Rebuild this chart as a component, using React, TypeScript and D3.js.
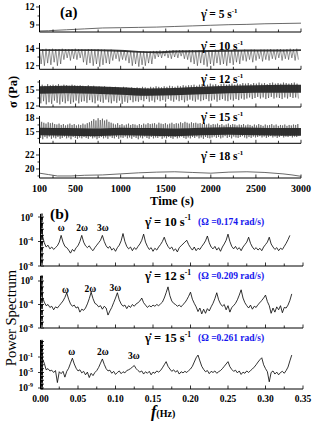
import React from 'react'
import * as d3 from 'd3'

// ---------- (a) stress vs time ----------
const rates = [5, 10, 12, 15, 18]
const omegas = [0.174, 0.209, 0.261] // rad/s, for 10, 12, 15 s^-1

const yTicks5 = [9, 12]
const yTicks10 = [12, 14]
const yTicks12 = [12, 15]
const yTicks15 = [15, 18]
const yTicks18 = [20, 22]
const timeLabels = [100, 500, 1000, 1500, 2000, 2500, 3000]

// 5 s^-1: slow creep
const time5 = [100, 200, 400, 600, 800, 1000, 1200, 1400, 1600, 1800, 2000, 2200, 2400, 2600, 2800, 3000]
const stress5 = [8.0, 8.05, 8.2, 8.35, 8.5, 8.55, 8.6, 8.65, 8.75, 8.85, 8.95, 9.05, 9.1, 9.2, 9.25, 9.3]

// 10 s^-1: per-cycle maxima / minima
const hi10 = [
  13.95, 13.9, 13.95, 13.9, 13.95, 13.9, 13.9, 13.95, 13.9, 13.9,
  13.9, 13.95, 13.9, 13.9, 13.85, 13.9, 13.9, 13.85, 13.9, 13.85,
  13.85, 13.8, 13.85, 13.8, 13.8, 13.75, 13.75, 13.7, 13.7, 13.65,
  13.65, 13.6, 13.65, 13.6, 13.65, 13.7, 13.7, 13.75, 13.7, 13.75,
  13.75, 13.8, 13.75, 13.8, 13.8, 13.75, 13.8, 13.8, 13.75, 13.8,
  13.8, 13.75, 13.8, 13.8, 13.85, 13.8, 13.8, 13.85, 13.8, 13.8,
  13.85, 13.8, 13.8, 13.85, 13.8, 13.85, 13.85, 13.8, 13.85, 13.85,
  13.85, 13.9, 13.85, 13.9, 13.9, 13.85, 13.9, 13.95, 13.9, 13.95
]
const lo10 = [
  12.2, 12.0, 12.3, 12.1, 12.4, 12.0, 12.2,
  12.7, 12.9, 12.6, 12.8, 12.7, 12.9,
  12.4, 12.1, 12.3, 12.0, 12.2, 11.9, 12.1, 12.3, 12.2,
  12.6, 12.8, 12.5, 12.7, 12.6,
  12.3, 12.0, 12.2, 11.9, 12.1, 12.0, 12.3, 12.2,
  12.8, 13.0, 12.9, 13.1, 12.9, 12.8, 13.0, 12.9, 13.1, 12.8, 12.7,
  12.4, 12.2, 12.0, 12.3, 12.1, 11.9, 12.2, 12.0, 12.3, 12.1, 12.2, 12.0, 12.3, 12.1, 12.4, 12.2,
  12.6, 12.5, 12.7, 12.4, 12.6, 12.8, 12.5, 12.7, 12.6,
  12.8, 12.7, 12.9, 12.6, 12.8, 12.7, 12.9, 12.6, 12.7
]
const coreT10 = [100, 500, 900, 1200, 1400, 1600, 2000, 2400, 2800, 3000]
const coreHi10 = [13.9, 13.9, 13.85, 13.7, 13.65, 13.75, 13.8, 13.85, 13.85, 13.9]
const coreLo10 = [13.68, 13.68, 13.63, 13.48, 13.43, 13.53, 13.58, 13.63, 13.63, 13.68]

// 12 s^-1
const hi12 = [
  15.9, 16.0, 15.8, 16.1, 15.9, 16.0, 15.9, 16.1, 15.8, 16.0, 15.9, 15.8, 16.0, 15.9, 15.8, 15.9,
  15.8, 15.7, 15.9, 15.7, 15.8, 15.6, 15.7, 15.6, 15.7, 15.5, 15.6, 15.5, 15.6, 15.5, 15.4, 15.6, 15.5, 15.4, 15.5, 15.4,
  15.5, 15.4, 15.6, 15.5, 15.4, 15.6, 15.5, 15.7, 15.6, 15.5, 15.7, 15.6, 15.8, 15.7, 15.6, 15.8, 15.7, 15.9, 15.8, 15.9,
  15.9, 16.0, 15.8, 16.0, 16.1, 15.9, 16.0, 16.2, 16.0, 16.1, 15.9, 16.1, 16.2, 16.0, 16.1, 16.2, 16.0, 16.2, 16.1, 16.3,
  16.2, 16.3, 16.1, 16.3, 16.2, 16.4, 16.2, 16.3, 16.1, 16.3, 16.4, 16.2, 16.3, 16.2, 16.4, 16.3, 16.2, 16.3, 16.4, 16.2
]
const lo12 = [
  12.5, 12.9, 12.3, 12.7, 12.4, 13.0, 12.6, 12.3, 12.8, 12.5, 12.9, 12.4, 12.7, 13.0, 12.5, 12.8,
  12.9, 12.6, 13.1, 12.7, 12.5, 13.0, 12.8, 12.6, 13.2, 12.7, 12.5, 12.9, 12.6, 13.0, 12.4, 12.8, 12.6, 13.1, 12.7, 12.9,
  12.8, 13.1, 12.9, 13.3, 12.8, 13.0, 12.7, 13.2, 12.9, 13.1, 12.8, 13.3, 13.0, 12.8, 13.2, 12.9, 13.1, 12.7, 13.0, 13.2,
  13.0, 12.8, 13.2, 12.9, 13.1, 13.3, 12.9, 13.0, 13.2, 12.8, 13.1, 13.3, 13.0, 12.9, 13.2, 13.0, 13.3, 13.1, 13.4, 13.2,
  13.4, 13.6, 13.3, 13.5, 13.7, 13.4, 13.6, 13.3, 13.5, 13.7, 13.4, 13.6, 13.5, 13.3, 13.6, 13.4, 13.7, 13.5, 13.6, 13.4
]
const coreT12 = [100, 400, 700, 1000, 1300, 1600, 1900, 2200, 2500, 2800, 3000]
const coreHi12 = [15.7, 15.8, 15.7, 15.5, 15.3, 15.4, 15.6, 15.8, 15.9, 16.0, 16.0]
const coreLo12 = [14.3, 14.4, 14.3, 14.1, 13.9, 14.0, 14.2, 14.4, 14.5, 14.5, 14.5]

// 15 s^-1
const hi15 = [
  17.8, 17.2, 17.0, 16.8, 17.1, 16.9, 17.0, 16.7,
  16.6, 16.8, 16.5, 16.7, 16.4, 16.6, 16.8, 16.5, 16.7, 16.4, 16.6, 16.5, 16.8, 16.6, 16.9, 17.1,
  17.4, 17.8, 17.5, 18.0, 17.6, 17.9, 17.5, 17.7, 17.2, 17.0,
  16.8, 16.6, 16.9, 16.5, 16.7, 16.4, 16.6, 16.8, 16.5, 16.7, 16.6, 16.4, 16.7, 16.5, 16.8, 16.6, 16.9, 16.7,
  16.8, 16.9, 16.6, 17.0, 16.8, 16.7, 16.9, 16.6, 16.8, 17.0, 16.7, 16.9, 16.8, 17.1, 16.9, 17.2, 17.0, 16.8, 17.1, 16.9, 17.0, 16.8, 16.9,
  16.7, 16.9, 16.6, 16.8, 16.5, 16.7, 16.6, 16.8, 16.5, 16.7, 16.4, 16.6, 16.8, 16.5, 16.7, 16.6, 16.4, 16.6,
  16.5, 16.7, 16.4, 16.6, 16.5, 16.3, 16.6, 16.4, 16.7, 16.5, 16.3, 16.6, 16.4, 16.5, 16.7, 16.4, 16.6, 16.3, 16.5, 16.4, 16.6, 16.3, 16.5, 16.4, 16.6, 16.5, 16.7
]
const lo15 = [
  13.6, 13.3, 13.8, 13.5, 13.9, 13.4, 13.7, 13.5, 13.8, 13.4, 13.6, 13.9, 13.5, 13.7, 13.3, 13.8, 13.6, 13.4, 13.7, 13.5,
  13.8, 13.6, 13.4, 13.9, 13.5, 13.7, 13.3, 13.6, 13.8, 13.5, 13.7, 13.4, 13.9, 13.6, 13.5, 13.8, 13.4, 13.7, 13.6, 13.9,
  13.5, 13.7, 13.4, 13.8, 13.6, 13.3, 13.7, 13.5, 13.9, 13.6, 13.4, 13.8, 13.5, 13.7, 13.6, 13.9, 13.4, 13.7, 13.5, 13.8,
  13.6, 13.4, 13.8, 13.5, 13.7, 13.9, 13.6, 13.4, 13.7, 13.5, 13.8, 13.6, 13.9, 13.5, 13.7, 13.4, 13.8, 13.6, 13.5, 13.7,
  13.9, 13.6, 13.8, 13.5, 13.7, 14.0, 13.6, 13.8, 13.5, 13.9, 13.7, 13.6, 13.8, 14.0, 13.7, 13.5, 13.8, 13.6, 13.9, 13.7,
  13.8, 14.0, 13.7, 13.9, 13.6, 13.8, 14.0, 13.7, 13.9, 13.6, 13.8, 14.1, 13.7, 13.9, 13.8, 14.0, 13.7, 13.9, 13.8, 14.0
]
const coreT15 = [100, 400, 700, 1000, 1300, 1600, 1900, 2200, 2500, 2800, 3000]
const coreHi15 = [15.9, 15.8, 15.7, 15.9, 15.8, 15.7, 15.9, 16.0, 15.9, 15.8, 15.8]
const coreLo15 = [14.2, 14.1, 14.0, 14.2, 14.1, 14.0, 14.2, 14.3, 14.2, 14.1, 14.1]

// 18 s^-1: nearly steady
const time18 = [100, 200, 300, 450, 600, 800, 1000, 1200, 1400, 1600, 1800, 2000, 2200, 2400, 2600, 2800, 2900, 3000]
const stress18 = [19.4, 19.2, 19.0, 19.0, 19.1, 19.15, 19.3, 19.45, 19.55, 19.6, 19.5, 19.4, 19.55, 19.6, 19.5, 19.3, 19.15, 18.95]

// ---------- (b) power spectra, log10(P), df = 0.0025 Hz ----------
const df = 0.0025
const freqLabels = [0, 0.05, 0.1, 0.15, 0.2, 0.25, 0.3, 0.35]
const logP10 = [
  0.5, -3.0, -4.2, -4.9, -4.6, -5.2, -4.9, -5.3, -5.0, -4.7,
  -4.1, -3.0, -4.1, -4.8, -5.0, -5.4, -5.9, -5.3, -5.6, -5.0,
  -4.7, -4.0, -3.0, -4.1, -4.7, -5.0, -4.7, -5.2, -5.5, -5.0,
  -4.6, -4.2, -3.8, -3.0, -4.0, -4.7, -5.1, -4.8, -5.4, -5.1,
  -5.6, -5.0, -4.6, -3.9, -2.7, -4.0, -4.8, -5.2, -4.9, -5.5,
  -5.0, -5.3, -4.8, -4.4, -3.8, -2.8, -4.1, -4.8, -5.3, -5.0,
  -5.6, -5.1, -5.4, -4.9, -4.5, -4.0, -3.3, -4.2, -4.8, -5.2,
  -4.9, -5.5, -5.2, -5.7, -5.0, -4.7, -4.4, -4.1, -3.8, -4.5,
  -5.0, -5.4, -4.9, -5.5, -5.1, -5.3, -4.8, -4.4, -3.9, -3.1,
  -4.2, -4.9, -5.2, -4.8, -5.4, -5.0, -5.6, -4.9, -4.4, -3.8,
  -2.8, -4.0, -4.8, -5.2, -4.8, -5.3, -5.0, -5.5, -4.9, -4.5,
  -4.1, -3.3, -4.3, -4.9, -5.3, -5.0, -5.4, -5.1, -5.5, -4.9,
  -4.5, -4.1, -3.3, -4.4, -4.9, -5.3, -5.0, -5.5, -5.1, -5.3,
  -4.8, -4.3, -3.7, -3.0
]
const logP12 = [
  0.8, -2.7, -3.6, -4.2, -4.0, -4.5, -4.3, -4.9, -4.4, -4.6,
  -4.2, -3.8, -3.4, -2.8, -2.0, -3.1, -3.9, -4.3, -4.1, -4.6,
  -4.4, -5.3, -4.8, -5.0, -4.6, -3.9, -3.0, -1.9, -3.0, -3.8,
  -4.0, -4.4, -4.2, -4.8, -4.3, -4.6, -5.8, -5.1, -4.5, -3.7,
  -2.9, -2.0, -3.2, -3.9, -4.3, -4.1, -4.7, -4.2, -4.5, -4.0,
  -4.3, -3.9, -3.7, -3.4, -2.9, -3.7, -4.1, -4.5, -4.2, -4.4,
  -4.1, -4.3, -4.0, -4.2, -3.9, -3.6, -2.9, -2.0, -1.0, -2.5,
  -3.4, -3.8, -4.0, -4.3, -4.1, -4.4, -4.0, -3.7, -3.2, -2.6,
  -1.9, -3.1, -3.8, -4.4, -5.2, -4.6, -5.6, -4.8, -5.5, -4.7,
  -5.1, -4.4, -3.8, -3.0, -2.0, -3.2, -3.9, -4.3, -4.0, -4.9,
  -4.2, -5.3, -4.5, -4.2, -3.8, -3.2, -2.4, -1.5, -2.9, -3.7,
  -4.2, -4.6, -4.1, -4.8, -4.3, -4.5, -4.0, -3.7, -3.3, -2.9,
  -2.4, -3.5, -4.2, -5.5, -4.6, -5.3, -4.4, -4.9, -4.2, -5.4,
  -4.5, -4.6, -4.1, -3.3, -2.2
]
const logP15 = [
  3.4, -1.4, -2.6, -4.3, -4.0, -4.6, -4.4, -5.0, -4.5, -7.6,
  -4.8, -5.3, -4.7, -6.2, -4.7, -3.9, -2.6, -1.3, -2.8, -3.9,
  -4.6, -4.3, -5.1, -4.7, -5.6, -4.9, -6.3, -5.2, -5.8, -5.0,
  -4.5, -3.7, -2.6, -1.5, -2.9, -4.0, -4.6, -4.4, -5.2, -4.7,
  -5.5, -5.0, -4.6, -5.3, -4.8, -5.1, -4.5, -4.3, -4.0, -3.6,
  -3.2, -4.0, -4.5, -4.9, -4.6, -5.4, -4.8, -5.2, -4.7, -5.6,
  -4.9, -5.2, -4.6, -4.9, -4.5, -3.8, -3.0, -2.2, -3.4, -4.1,
  -4.7, -4.3, -4.9, -4.5, -5.4, -4.8, -5.1, -4.7, -5.0, -4.5,
  -4.1, -3.4, -2.3, -1.2, -0.5, -2.0, -3.4, -4.2, -4.8, -4.5,
  -5.3, -4.7, -5.0, -4.6, -5.2, -4.8, -4.5, -4.0, -3.4, -2.8,
  -2.2, -3.5, -4.2, -4.7, -4.4, -5.1, -4.6, -5.5, -4.9, -5.2,
  -4.6, -5.0, -4.5, -4.1, -3.6, -3.0, -2.3, -1.7, -1.2, -3.0,
  -4.0, -4.8, -7.4, -5.0, -4.6, -5.4, -4.9, -5.6, -5.0, -4.7,
  -5.2, -4.5, -3.6, -2.0, -0.5
]
const harmonicLabels = ['ω', '2ω', '3ω']

const W = 312
const H = 425
const FONT = '"Liberation Serif", "Times New Roman", serif'

const xTime = d3.scaleLinear().domain([100, 3000]).range([39.5, 301])
const xFreq = d3.scaleLinear().domain([0, 0.35]).range([40.5, 303])

const stressPanels = [
  { top: 5, bottom: 32, domain: [7.83, 12.33], ticks: yTicks5, minor: [10.5], labelY: 18 },
  { top: 43, bottom: 69.3, domain: [11.59, 14.61], ticks: yTicks10, minor: [13], labelY: 50 },
  { top: 80, bottom: 107, domain: [11.81, 16.88], ticks: yTicks12, minor: [13.5, 16.5], labelY: 82.5 },
  { top: 116, bottom: 143.3, domain: [12.4, 18.5], ticks: yTicks15, minor: [13.5, 16.5], labelY: 120.5 },
  { top: 148, bottom: 178, domain: [18.71, 23], ticks: yTicks18, minor: [19, 21], labelY: 160 },
]

const specPanels = [
  { top: 214, bottom: 266, lo: -8, hi: 0.49, labels: [0, -4, -8], data: logP10, textY: 225.5, harmY: [231, 231, 231] },
  { top: 276, bottom: 328, lo: -8, hi: 0.85, labels: [0, -4, -8], data: logP12, textY: 280, harmY: [292.5, 292, 290.5] },
  { top: 340, bottom: 389, lo: -9.26, hi: 3.39, labels: [-1, -5, -9], data: logP15, textY: 342, harmY: [355, 355, 359] },
]

function zigzag(hi: number[], lo: number[], period: number): [number, number][] {
  const pts: [number, number][] = []
  hi.forEach((h, i) => {
    pts.push([100 + i * period, h])
    pts.push([100 + (i + 0.5) * period, lo[i]])
  })
  return pts
}

function logTicks(lo: number, hi: number) {
  const out: { v: number; major: boolean }[] = []
  for (let d = Math.floor(lo); d <= Math.ceil(hi); d++) {
    for (let k = 1; k <= 9; k++) {
      const v = d + Math.log10(k)
      if (v >= lo && v <= hi) out.push({ v, major: k === 1 })
    }
  }
  return out
}

function Rate({ x, y, rate, size }: { x: number; y: number; rate: number; size: number }) {
  return (
    <text x={x} y={y} fontSize={size} fontWeight="bold">
      {'γ\u0307 = ' + rate + ' s'}
      <tspan dy={-size * 0.42} fontSize={size * 0.6}>-1</tspan>
    </text>
  )
}

export default function App() {
  const minorTime = d3.range(250, 3001, 250)
  const minorFreq = d3.range(0, 0.3501, 0.025)

  const stressMarks = (i: number, y: d3.ScaleLinear<number, number>) => {
    const line = d3.line<[number, number]>().x(d => xTime(d[0])).y(d => y(d[1]))
    if (i === 0 || i === 4) {
      const t = i === 0 ? time5 : time18
      const s = i === 0 ? stress5 : stress18
      return <path d={line(t.map((v, k) => [v, s[k]]) as [number, number][]) || ''} fill="none" stroke="#444" strokeWidth={0.8} />
    }
    const sets = [
      null,
      { hi: hi10, lo: lo10, ct: coreT10, ch: coreHi10, cl: coreLo10, fill: '#222' },
      { hi: hi12, lo: lo12, ct: coreT12, ch: coreHi12, cl: coreLo12, fill: '#1c1c1c' },
      { hi: hi15, lo: lo15, ct: coreT15, ch: coreHi15, cl: coreLo15, fill: '#1c1c1c' },
    ]
    const s = sets[i]!
    const period = (2 * Math.PI) / omegas[i - 1]
    const core = d3.area<number>()
      .x((_, k) => xTime(s.ct[k]))
      .y0((_, k) => y(s.cl[k]))
      .y1((_, k) => y(s.ch[k]))
      .curve(d3.curveMonotoneX)(s.ct)
    return (
      <g>
        <path d={core || ''} fill={s.fill} fillOpacity={0.9} />
        <path d={line(zigzag(s.hi, s.lo, period)) || ''} fill="none" stroke="#2a2a2a" strokeWidth={0.5} />
      </g>
    )
  }

  return (
    <div style={{ position: 'absolute', left: 0, top: 0, background: '#fff' }}>
      <svg width={W} height={H} fontFamily={FONT} style={{ display: 'block' }}>
        <rect width={W} height={H} fill="#fff" />

        {/* (a) stacked stress panels */}
        {stressPanels.map((p, i) => {
          const y = d3.scaleLinear().domain(p.domain).range([p.bottom, p.top])
          return (
            <g key={'a' + i}>
              {stressMarks(i, y)}
              <line x1={39.5} x2={39.5} y1={p.top} y2={p.bottom} stroke="#000" strokeWidth={1} />
              <line x1={39.5} x2={301} y1={p.bottom} y2={p.bottom} stroke="#000" strokeWidth={1} />
              {p.ticks.map(t => (
                <g key={t}>
                  <line x1={36} x2={39.5} y1={y(t)} y2={y(t)} stroke="#000" strokeWidth={0.8} />
                  <text x={34.5} y={y(t) + 3.2} fontSize={9.5} fontWeight="bold" textAnchor="end">{t}</text>
                </g>
              ))}
              {p.minor.map(t => (
                <line key={t} x1={37.5} x2={39.5} y1={y(t)} y2={y(t)} stroke="#000" strokeWidth={0.8} />
              ))}
              {minorTime.map(t => (
                <line key={t} x1={xTime(t)} x2={xTime(t)} y1={p.bottom} y2={p.bottom - (t % 500 === 0 ? 3.5 : 2.5)} stroke="#000" strokeWidth={0.8} />
              ))}
              <Rate x={201} y={p.labelY} rate={rates[i]} size={11.5} />
            </g>
          )
        })}
        {timeLabels.map(t => (
          <text key={t} x={xTime(t)} y={192} fontSize={10} fontWeight="bold" textAnchor="middle">{t}</text>
        ))}
        <text x={172} y={205} fontSize={12.5} fontWeight="bold" textAnchor="middle">Time (s)</text>
        <text transform="translate(17,92) rotate(-90)" fontSize={12.5} fontWeight="bold" textAnchor="middle">σ (Pa)</text>
        <text x={60} y={17} fontSize={15} fontWeight="bold">(a)</text>

        {/* (b) power spectra */}
        {specPanels.map((p, i) => {
          const y = d3.scaleLog().domain([Math.pow(10, p.lo), Math.pow(10, p.hi)]).range([p.bottom, p.top]).clamp(true)
          const line = d3.line<number>().x((_, k) => xFreq(k * df)).y(v => y(Math.pow(10, v)))
          const f0 = omegas[i] / (2 * Math.PI)
          return (
            <g key={'b' + i}>
              <path d={line(p.data) || ''} fill="none" stroke="#000" strokeWidth={0.8} />
              <line x1={40.5} x2={40.5} y1={p.top} y2={p.bottom} stroke="#000" strokeWidth={1} />
              <line x1={40.5} x2={303} y1={p.bottom} y2={p.bottom} stroke="#000" strokeWidth={1} />
              {logTicks(p.lo, p.hi).map(t => (
                <line key={t.v} x1={40.5} x2={40.5 + (t.major ? 3.5 : 2.5)} y1={y(Math.pow(10, t.v))} y2={y(Math.pow(10, t.v))} stroke="#000" strokeWidth={0.8} />
              ))}
              {p.labels.map(e => (
                <g key={e}>
                  <line x1={38} x2={40.5} y1={y(Math.pow(10, e))} y2={y(Math.pow(10, e))} stroke="#000" strokeWidth={0.8} />
                  <text x={33} y={y(Math.pow(10, e)) + 3.5} fontSize={9.5} fontWeight="bold" textAnchor="end">
                    10<tspan dy={-4} fontSize={6}>{e}</tspan>
                  </text>
                </g>
              ))}
              {minorFreq.map(f => (
                <line key={f} x1={xFreq(f)} x2={xFreq(f)} y1={p.bottom} y2={p.bottom - (Math.round(f * 1000) % 50 === 0 ? 3.5 : 2.5)} stroke="#000" strokeWidth={0.8} />
              ))}
              {harmonicLabels.map((h, k) => (
                <text key={h} x={xFreq((k + 1) * f0)} y={p.harmY[k]} fontSize={9.5} fontWeight="bold" textAnchor="middle">{h}</text>
              ))}
              <Rate x={145} y={p.textY} rate={rates[i + 1]} size={12.5} />
              <text x={198} y={p.textY - 1} fontSize={9.5} fontWeight="bold" fill="#1515ee">
                {'(Ω =' + omegas[i].toFixed(3) + ' rad/s)'}
              </text>
            </g>
          )
        })}
        {freqLabels.map(f => (
          <text key={f} x={xFreq(f)} y={402} fontSize={9.5} fontWeight="bold" textAnchor="middle">{f.toFixed(2)}</text>
        ))}
        <text x={151} y={417} fontWeight="bold">
          <tspan fontSize={16} fontStyle="italic">f</tspan>
          <tspan fontSize={10}>(Hz)</tspan>
        </text>
        <text transform="translate(16,318) rotate(-90)" fontSize={14.5} textAnchor="middle">Power Spectrum</text>
        <text x={50} y={219} fontSize={15.5} fontWeight="bold">(b)</text>
      </svg>
    </div>
  )
}
